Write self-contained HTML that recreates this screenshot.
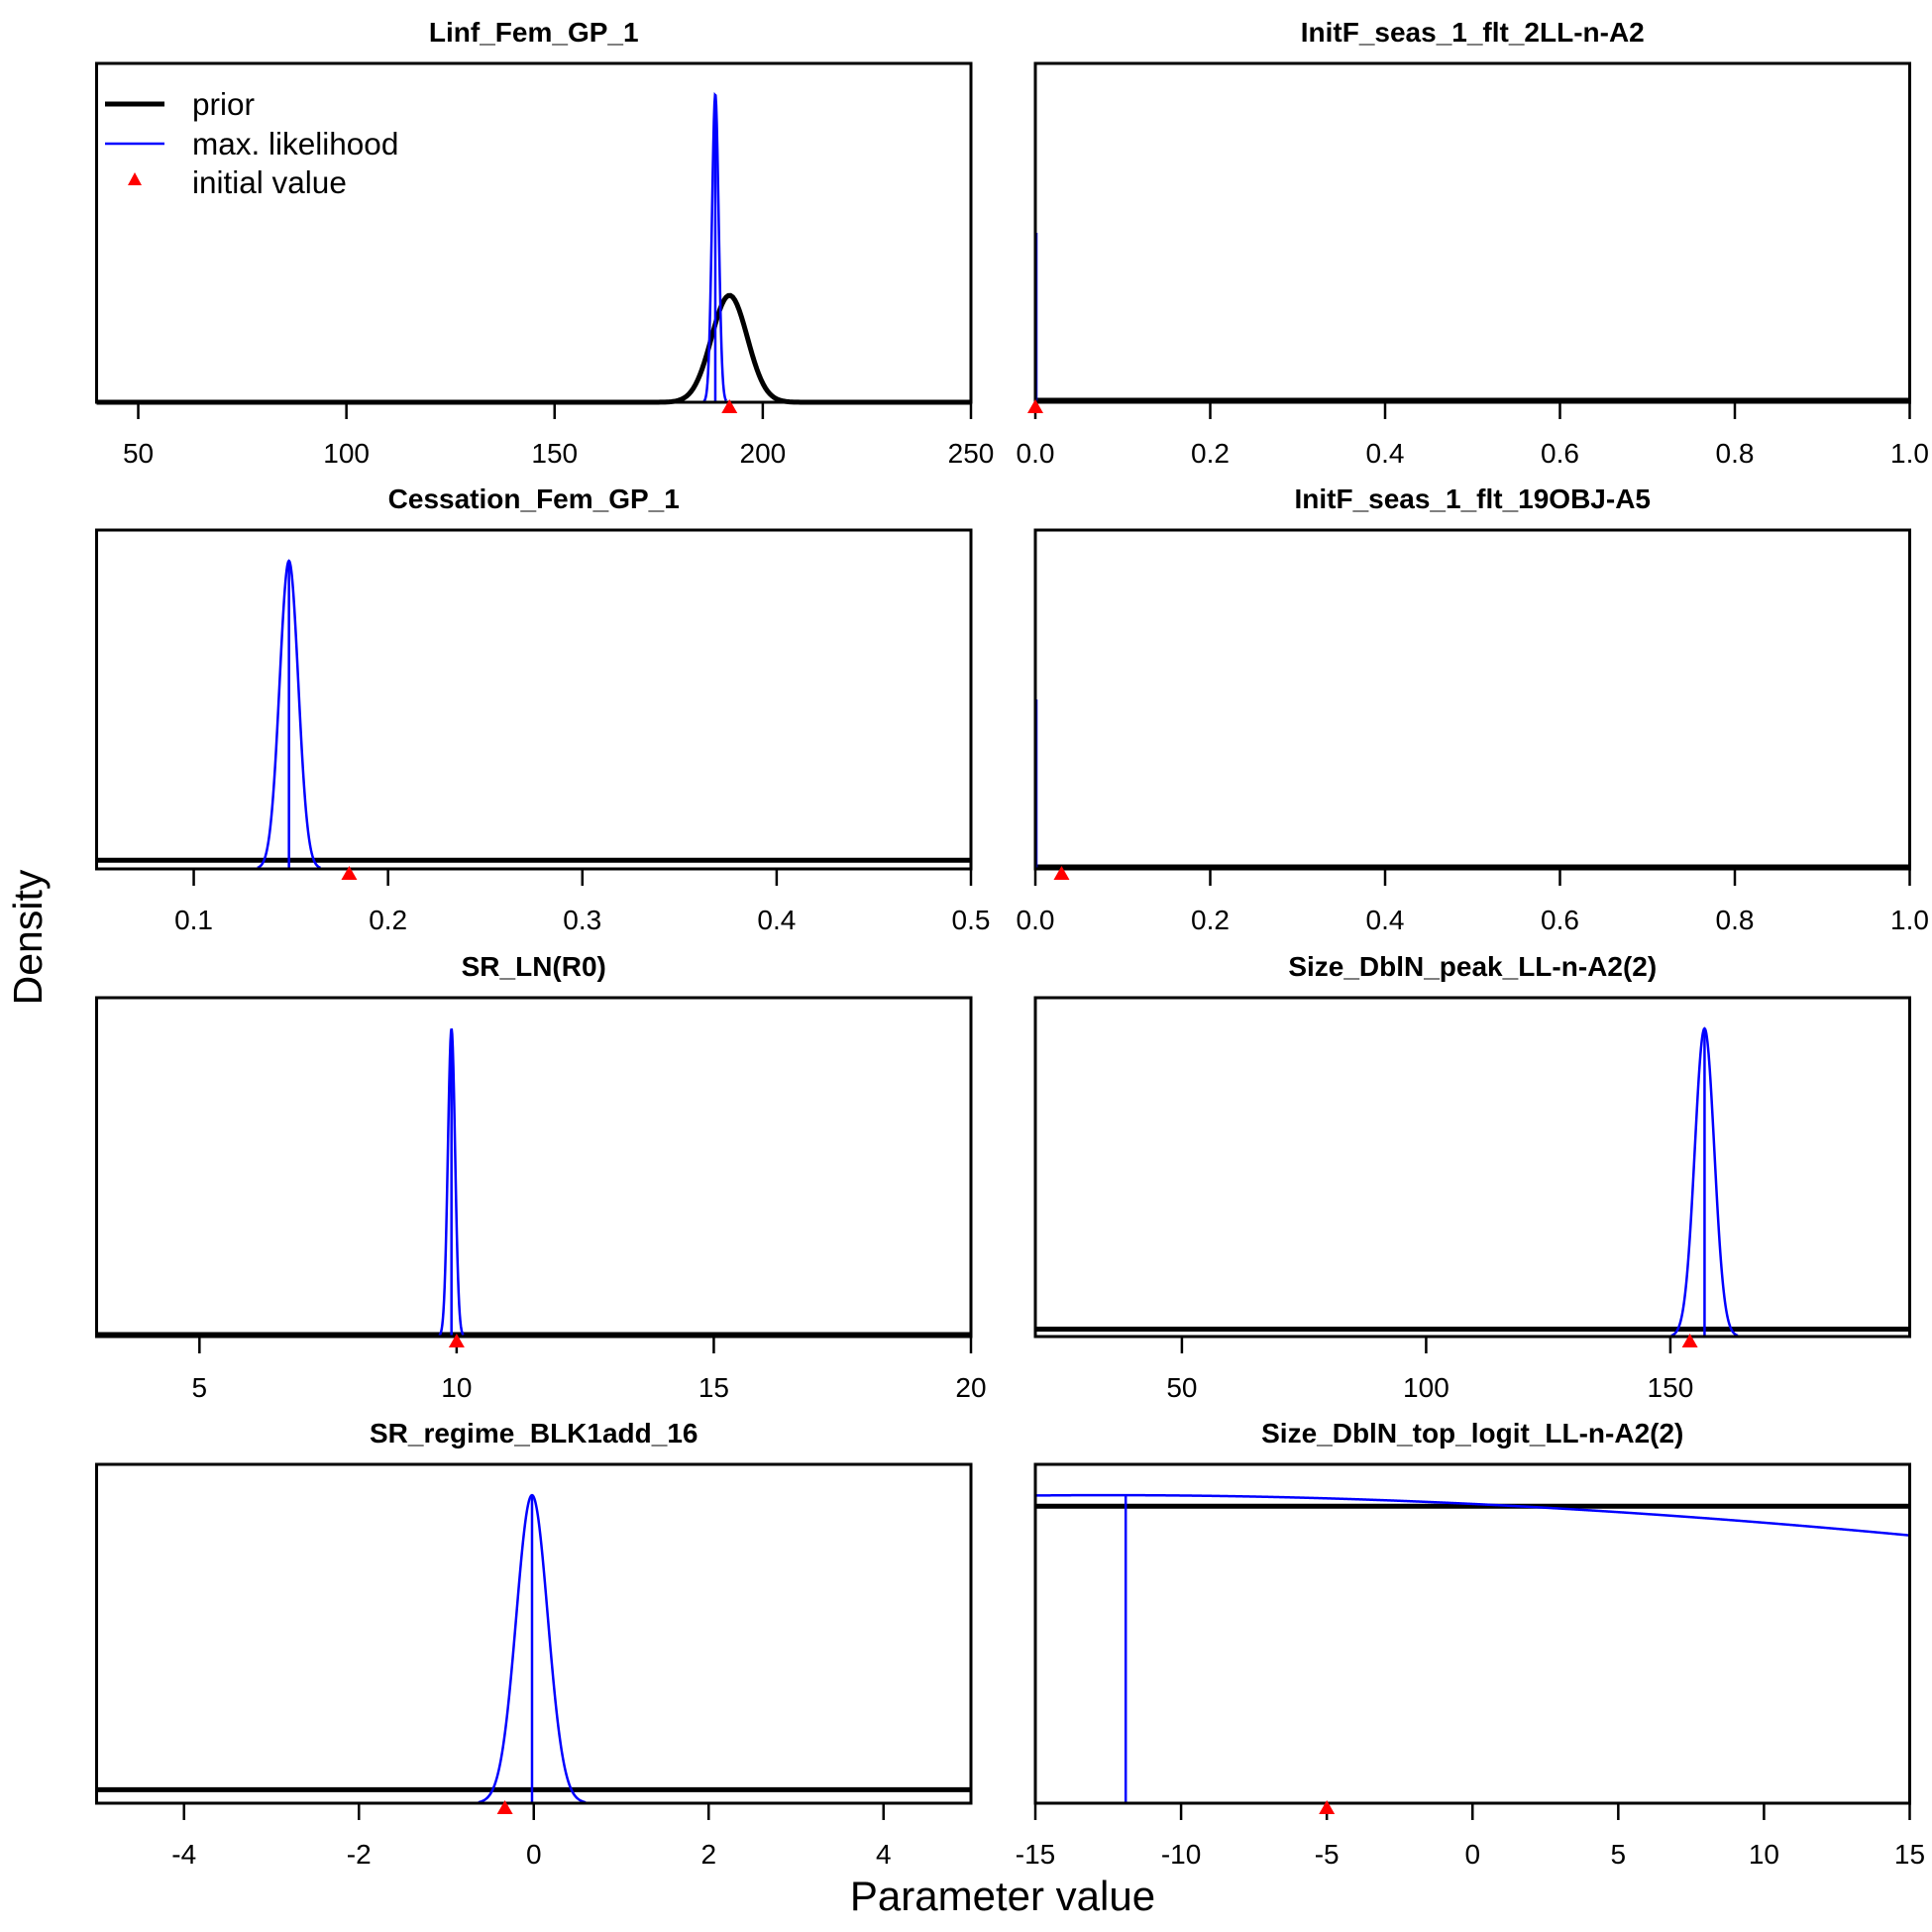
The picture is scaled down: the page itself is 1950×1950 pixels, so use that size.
<!DOCTYPE html>
<html><head><meta charset="utf-8"><style>
html,body{margin:0;padding:0;background:#fff;}
svg{display:block;font-family:"Liberation Sans",Arial,sans-serif;}
</style></head><body>
<svg id="chart" width="1950" height="1950" viewBox="0 0 1950 1950" xmlns="http://www.w3.org/2000/svg">
<text x="0" y="0" transform="translate(42,946) rotate(-90)" text-anchor="middle" font-size="41">Density</text>
<text x="1012" y="1928" text-anchor="middle" font-size="42">Parameter value</text>
</svg>
<script>
const titles = ["Linf_Fem_GP_1","InitF_seas_1_flt_2LL-n-A2","Cessation_Fem_GP_1","InitF_seas_1_flt_19OBJ-A5","SR_LN(R0)","Size_DblN_peak_LL-n-A2(2)","SR_regime_BLK1add_16","Size_DblN_top_logit_LL-n-A2(2)"];
const xMin = [40, 0, 0.05, 0, 3, 20, -5, -15];
const xMax = [250, 1, 0.5, 1, 20, 199, 5, 15];
const tickVals = [[50,100,150,200,250],[0,0.2,0.4,0.6,0.8,1.0],[0.1,0.2,0.3,0.4,0.5],[0,0.2,0.4,0.6,0.8,1.0],[5,10,15,20],[50,100,150],[-4,-2,0,2,4],[-15,-10,-5,0,5,10,15]];
const tickLabels = [["50","100","150","200","250"],["0.0","0.2","0.4","0.6","0.8","1.0"],["0.1","0.2","0.3","0.4","0.5"],["0.0","0.2","0.4","0.6","0.8","1.0"],["5","10","15","20"],["50","100","150"],["-4","-2","0","2","4"],["-15","-10","-5","0","5","10","15"]];
const mleVals = [188.6, 0, 0.149, 0, 9.9, 157, -0.02, -11.9];
const mleSd = [0.8, 0, 0.0048, 0, 0.07, 2.0, 0.18, 52];
const mleCenter = [188.6, 0, 0.149, 0, 9.9, 157, -0.02, -12.5];
const spikeHeight = [0, 0.5, 0, 0.5, 0, 0, 0, 0];
const priorType = ["normal","flat","flat","flat","flat","flat","flat","flat"];
const priorMean = [192, 0, 0, 0, 0, 0, 0, 0];
const priorSd = [4.3, 0, 0, 0, 0, 0, 0, 0];
const priorHeight = [0.347, 0, 0.028, 0, 0, 0.024, 0.044, 0.964];
const initVals = [192, 0, 0.18, 0.03, 10, 154, -0.33, -5];

const svg = document.getElementById('chart');
const NS = 'http://www.w3.org/2000/svg';
const colL = [97.5, 1045], colW = 882.5;
const rowT = [64, 535, 1007, 1478], H = 342;
function mk(tag, attrs){const e=document.createElementNS(NS,tag);for(const k in attrs)e.setAttribute(k,attrs[k]);svg.appendChild(e);return e;}

for(let i=0;i<8;i++){
  const L = colL[i%2], T = rowT[Math.floor(i/2)], B = T+H, R = L+colW;
  const sx = v => L + (v - xMin[i])/(xMax[i]-xMin[i])*colW;
  const sy = f => B - f/1.1*H;
  const t = mk('text',{x:(L+R)/2,y:T-22,'text-anchor':'middle','font-size':28,'font-weight':'bold'});
  t.textContent = titles[i];
  
  
  if(priorType[i]==='normal'){
    let d='';
    for(let k=0;k<=400;k++){
      const x = xMin[i]+(xMax[i]-xMin[i])*k/400;
      const f = priorHeight[i]*Math.exp(-0.5*Math.pow((x-priorMean[i])/priorSd[i],2));
      d += (k?'L':'M')+sx(x).toFixed(2)+' '+sy(f).toFixed(2);
    }
    const p = mk('path',{d:d,fill:'none',stroke:'#000','stroke-width':5});
    
    
  } else {
    const yy = Math.min(sy(priorHeight[i]), B-2);
    const p = mk('line',{x1:L,x2:R,y1:yy,y2:yy,stroke:'#000','stroke-width':5});
    
    
  }
  if(mleSd[i]>0){
    let d='', started=false;
    for(let k=0;k<=1500;k++){
      const x = xMin[i]+(xMax[i]-xMin[i])*k/1500;
      const f = Math.exp(-0.5*Math.pow((x-mleCenter[i])/mleSd[i],2));
      if(f<0.003){ continue; }
      d += (started?'L':'M')+sx(x).toFixed(2)+' '+sy(f).toFixed(2); started=true;
    }
    const p = mk('path',{d:d,fill:'none',stroke:'#0000ff','stroke-width':2.5});
    
    
    const fm = Math.exp(-0.5*Math.pow((mleVals[i]-mleCenter[i])/mleSd[i],2));
    const v = mk('line',{x1:sx(mleVals[i]),x2:sx(mleVals[i]),y1:B,y2:sy(fm),stroke:'#0000ff','stroke-width':2.5});
    
    
  } else {
    const v = mk('line',{x1:sx(mleVals[i])+1,x2:sx(mleVals[i])+1,y1:B,y2:B-spikeHeight[i]*H,stroke:'#0000ff','stroke-width':2.5});
    
    
  }
  const bx = mk('rect',{x:L,y:T,width:colW,height:H,fill:'none',stroke:'#000','stroke-width':3});
  
  
  tickVals[i].forEach((tv,j)=>{
    const x = sx(tv);
    const tk = mk('line',{x1:x,x2:x,y1:B,y2:B+17,stroke:'#000','stroke-width':2.5});
    
    
    const tl = mk('text',{x:x,y:B+61,'text-anchor':'middle','font-size':28});
    tl.textContent = tickLabels[i][j];
    
    
  });
  const ix = sx(initVals[i]);
  const tri = mk('polygon',{points:`${ix-8},${B+11} ${ix+8},${B+11} ${ix},${B-3}`,fill:'#ff0000'});
  
  
}
const lg = [['prior',105],['max. likelihood',145],['initial value',184]];
const l1 = mk('line',{x1:106,x2:166,y1:105,y2:105,stroke:'#000','stroke-width':5});


const l2 = mk('line',{x1:106,x2:166,y1:145,y2:145,stroke:'#0000ff','stroke-width':2.5});


const l3 = mk('polygon',{points:'129,187 143,187 136,174',fill:'#ff0000'});


lg.forEach(e=>{
  const t = mk('text',{x:194,y:e[1]+11,'font-size':31.5});
  t.textContent = e[0];
  
  
});
</script>
</body></html>
